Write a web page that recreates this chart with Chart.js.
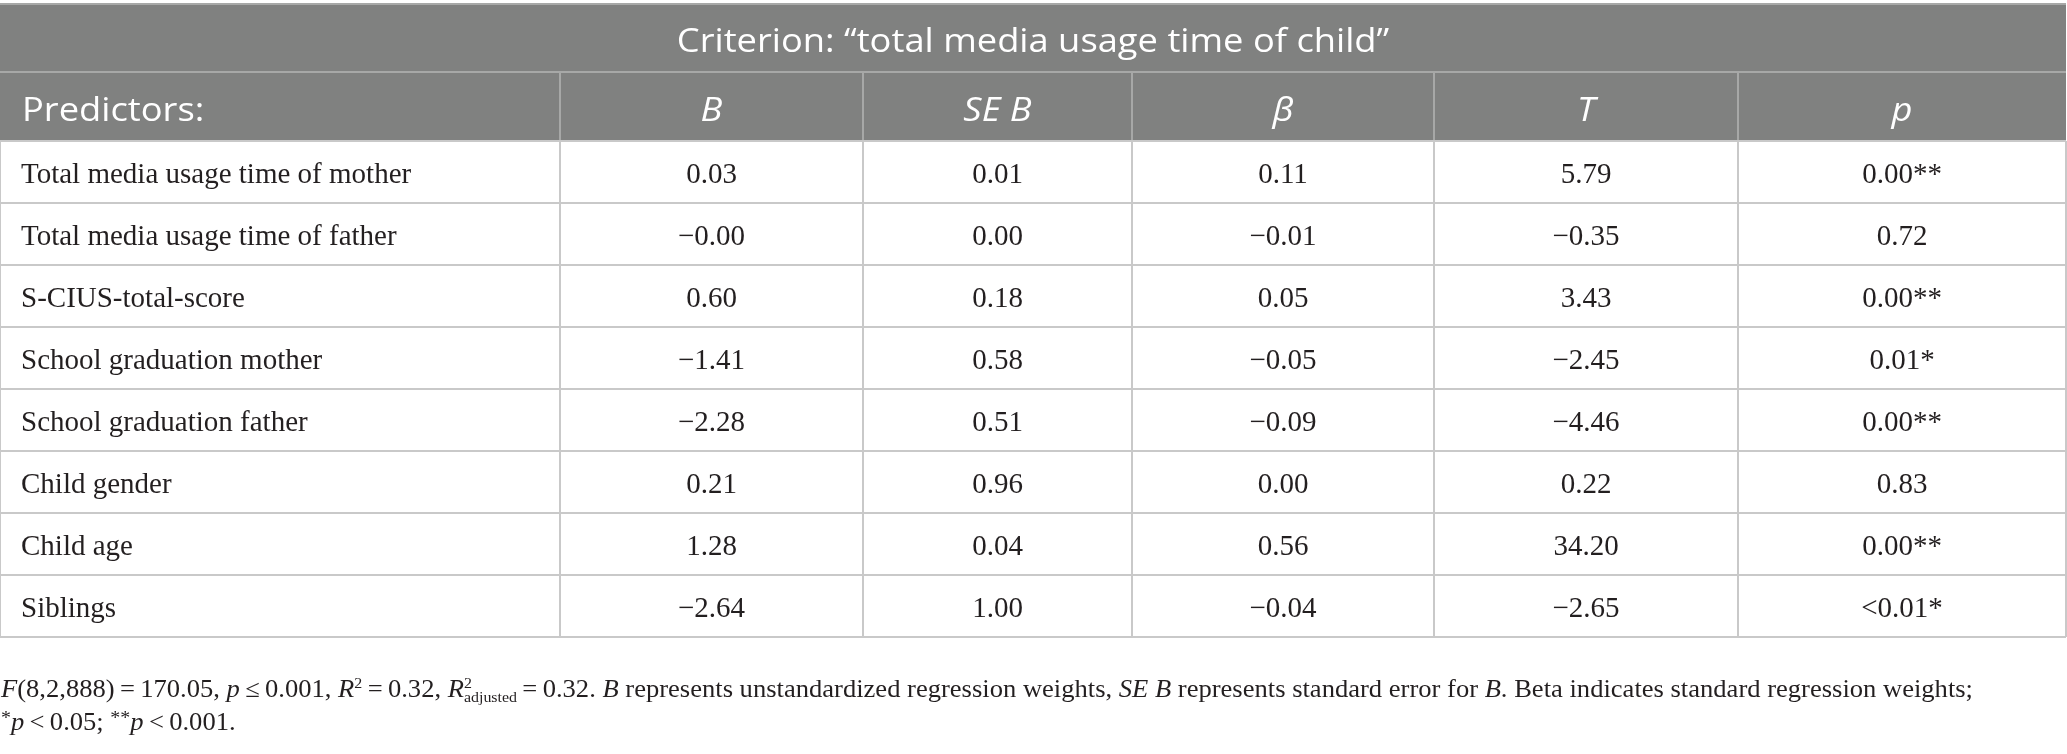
<!DOCTYPE html>
<html>
<head>
<meta charset="utf-8">
<script src="https://cdn.jsdelivr.net/npm/chart.js@4.4.1/dist/chart.umd.min.js"></script>
<style>
html, body { margin: 0; padding: 0; background: #fff; }
canvas { display: block; }
</style>
</head>
<body>
<canvas id="regressionTable" width="2067" height="754"></canvas>
<script>
const criterion = 'Criterion: \u201ctotal media usage time of child\u201d';
const columnHeads = ['Predictors:', 'B', 'SE B', '\u03b2', 'T', 'p'];
const predictors = [
    'Total media usage time of mother',
    'Total media usage time of father',
    'S-CIUS-total-score',
    'School graduation mother',
    'School graduation father',
    'Child gender',
    'Child age',
    'Siblings'
];
const valuesB    = ['0.03', '\u22120.00', '0.60', '\u22121.41', '\u22122.28', '0.21', '1.28', '\u22122.64'];
const valuesSEB  = ['0.01', '0.00', '0.18', '0.58', '0.51', '0.96', '0.04', '1.00'];
const valuesBeta = ['0.11', '\u22120.01', '0.05', '\u22120.05', '\u22120.09', '0.00', '0.56', '\u22120.04'];
const valuesT    = ['5.79', '\u22120.35', '3.43', '\u22122.45', '\u22124.46', '0.22', '34.20', '\u22122.65'];
const valuesP    = ['0.00**', '0.72', '0.00**', '0.01*', '0.00**', '0.83', '0.00**', '<0.01*'];
const columns = [predictors, valuesB, valuesSEB, valuesBeta, valuesT, valuesP];

// footnote text as runs: i = italic, s = 'sup' / 'sub', keep = don't advance (stacked)
const noteLine1 = [
    {t: 'F', i: true}, {t: '(8,2,888)\u2009=\u2009170.05, '},
    {t: 'p', i: true}, {t: '\u2009\u2264\u20090.001, '},
    {t: 'R', i: true}, {t: '2', s: 'sup'}, {t: '\u2009=\u20090.32, '},
    {t: 'R', i: true}, {t: '2', s: 'sup', keep: true}, {t: 'adjusted', s: 'sub'}, {t: '\u2009=\u20090.32. '},
    {t: 'B', i: true}, {t: ' represents unstandardized regression weights, '},
    {t: 'SE B', i: true}, {t: ' represents standard error for '},
    {t: 'B', i: true}, {t: '. Beta indicates standard regression weights;'}
];
const noteLine2 = [
    {t: '*', s: 'sup'}, {t: 'p', i: true}, {t: '\u2009<\u20090.05; '},
    {t: '**', s: 'sup'}, {t: 'p', i: true}, {t: '\u2009<\u20090.001.'}
];

// layout
const colEdges = [0, 560, 863, 1132, 1434, 1738, 2066];
const tableTop = 4, titleH = 68, headH = 69;
const headGray = '#808180', headLine = '#a7a8a7', cellLine = '#c9c9c9';
const inkColor = '#231f20';
const noteWidth = 1972;
const headFont = 33, headStretch = 1.1;

function drawRuns(ctx, runs, x, y, size, sx) {
    ctx.save();
    ctx.translate(x, y);
    ctx.scale(sx, 1);
    let cx = 0;
    runs.forEach(r => {
        const sz = r.s ? size * (r.t[0] === '*' ? 0.75 : 0.6) : size;
        ctx.font = (r.i ? 'italic ' : '') + sz + 'px "Liberation Serif"';
        const dy = r.s === 'sup' ? -size * (r.t[0] === '*' ? 0.25 : 0.36) : (r.s === 'sub' ? size * 0.2 : 0);
        ctx.fillText(r.t, cx, dy);
        if (!r.keep) cx += ctx.measureText(r.t).width;
    });
    ctx.restore();
}

function runsWidth(ctx, runs, size) {
    let w = 0;
    runs.forEach(r => {
        const sz = r.s ? size * (r.t[0] === '*' ? 0.75 : 0.6) : size;
        ctx.font = (r.i ? 'italic ' : '') + sz + 'px "Liberation Serif"';
        if (!r.keep) w += ctx.measureText(r.t).width;
    });
    return w;
}

// head text is a touch wider than Open Sans, so stretch it a little
function headText(ctx, txt, x, y, align) {
    ctx.save();
    ctx.translate(x, y);
    ctx.scale(headStretch, 1);
    ctx.textAlign = align;
    ctx.fillText(txt, 0, 0);
    ctx.restore();
}

const tablePlugin = {
    id: 'tablePlugin',
    beforeDraw(chart) {
        const ctx = chart.ctx;
        ctx.save();
        ctx.fillStyle = '#fff';
        ctx.fillRect(0, 0, chart.width, chart.height);
        ctx.restore();
    },
    afterDraw(chart) {
        const ctx = chart.ctx;
        const xs = chart.scales.x, ys = chart.scales.y;
        const left = xs.getPixelForValue(colEdges[0]);
        const right = xs.getPixelForValue(colEdges[colEdges.length - 1]);
        const headBottom = chart.chartArea.top;
        const headTop = headBottom - headH;
        ctx.save();

        // gray header bands
        ctx.fillStyle = headGray;
        ctx.fillRect(left, tableTop, right - left, headBottom - tableTop);
        ctx.strokeStyle = headLine;
        ctx.lineWidth = 2;
        ctx.beginPath();
        ctx.moveTo(left, tableTop); ctx.lineTo(right, tableTop);
        ctx.moveTo(left, headTop); ctx.lineTo(right, headTop);
        colEdges.slice(1, -1).forEach(v => {
            const px = xs.getPixelForValue(v);
            ctx.moveTo(px, headTop); ctx.lineTo(px, headBottom);
        });
        ctx.stroke();
        ctx.strokeStyle = cellLine;
        ctx.beginPath();
        ctx.moveTo(left, headBottom); ctx.lineTo(right, headBottom);
        ctx.stroke();

        // title + column heads
        ctx.fillStyle = '#fff';
        ctx.textBaseline = 'alphabetic';
        ctx.font = headFont + 'px "Open Sans"';
        headText(ctx, criterion, (left + right) / 2, tableTop + 48, 'center');
        columnHeads.forEach((h, c) => {
            const a = xs.getPixelForValue(colEdges[c]), b = xs.getPixelForValue(colEdges[c + 1]);
            if (c === 0) {
                ctx.font = headFont + 'px "Open Sans"';
                headText(ctx, h, a + 22, headBottom - 20, 'left');
            } else {
                ctx.font = 'italic ' + headFont + 'px "Open Sans"';
                headText(ctx, h, (a + b) / 2, headBottom - 20, 'center');
            }
        });

        // body cells
        ctx.fillStyle = inkColor;
        ctx.font = '29px "Liberation Serif"';
        columns.forEach((col, c) => {
            const a = xs.getPixelForValue(colEdges[c]), b = xs.getPixelForValue(colEdges[c + 1]);
            col.forEach((txt, r) => {
                const py = ys.getPixelForValue(r) + 11;
                if (c === 0) {
                    ctx.textAlign = 'left';
                    ctx.fillText(txt, a + 21, py);
                } else {
                    ctx.textAlign = 'center';
                    ctx.fillText(txt, (a + b) / 2, py);
                }
            });
        });

        // footnote
        ctx.textAlign = 'left';
        const noteSize = 25;
        const sx = noteWidth / runsWidth(ctx, noteLine1, noteSize);
        const bottom = chart.chartArea.bottom;
        drawRuns(ctx, noteLine1, left + 1, bottom + 60, noteSize, sx);
        drawRuns(ctx, noteLine2, left + 1, bottom + 93, noteSize, sx);
        ctx.restore();
    }
};

new Chart(document.getElementById('regressionTable'), {
    type: 'bar',
    data: {
        labels: predictors,
        datasets: [{ data: [] }]
    },
    options: {
        indexAxis: 'y',
        responsive: false,
        devicePixelRatio: 1,
        animation: false,
        layout: { padding: { top: tableTop + titleH + headH, bottom: 117, left: 0, right: 1 } },
        plugins: { legend: { display: false }, tooltip: { enabled: false } },
        scales: {
            x: {
                type: 'linear',
                min: colEdges[0],
                max: colEdges[colEdges.length - 1],
                afterBuildTicks: axis => { axis.ticks = colEdges.map(v => ({ value: v })); },
                ticks: { display: false },
                grid: { color: cellLine, lineWidth: 2, drawTicks: false },
                border: { display: false }
            },
            y: {
                type: 'category',
                offset: true,
                ticks: { display: false },
                grid: { offset: true, color: cellLine, lineWidth: 2, drawTicks: false },
                border: { display: false }
            }
        }
    },
    plugins: [tablePlugin]
});
</script>
</body>
</html>
